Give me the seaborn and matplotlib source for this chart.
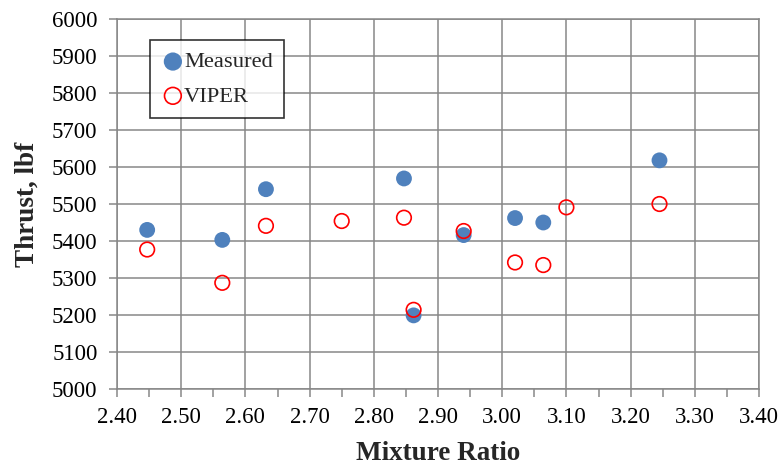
import numpy as np
import pandas as pd
import matplotlib
matplotlib.use("Agg")
import matplotlib.pyplot as plt
import seaborn as sns
from matplotlib.ticker import MultipleLocator

# data
measured_mr = [2.447, 2.564, 2.632, 2.847, 2.862, 2.940, 3.020, 3.064, 3.245]
measured_thrust = [5430, 5403, 5540, 5569, 5199, 5416, 5462, 5450, 5618]

viper_mr = [2.447, 2.564, 2.632, 2.750, 2.847, 2.862, 2.940, 3.020, 3.064, 3.100, 3.245]
viper_thrust = [5377, 5287, 5441, 5454, 5463, 5214, 5427, 5342, 5335, 5491, 5500]

df_meas = pd.DataFrame({"Mixture Ratio": measured_mr, "Thrust": measured_thrust})
df_viper = pd.DataFrame({"Mixture Ratio": viper_mr, "Thrust": viper_thrust})

sns.set_style("white")
plt.rcParams["font.family"] = ["Liberation Serif", "DejaVu Serif"]

fig = plt.figure(figsize=(7.81, 4.66), dpi=100)
ax = fig.add_axes([117 / 781, 77 / 466, 642 / 781, 370 / 466])

grid_col = "#878787"

sns.scatterplot(data=df_meas, x="Mixture Ratio", y="Thrust", ax=ax,
                color="#4F81BD", s=130, edgecolor="none", label="Measured", zorder=3)
sns.scatterplot(data=df_viper, x="Mixture Ratio", y="Thrust", ax=ax,
                facecolor="none", edgecolor="#FF0000", linewidth=1.2, s=110,
                marker="o", label="VIPER", zorder=4)

ax.set_xlim(2.40, 3.40)
ax.set_ylim(5000, 6000)
ax.xaxis.set_major_locator(MultipleLocator(0.10))
ax.xaxis.set_minor_locator(MultipleLocator(0.05))
ax.yaxis.set_major_locator(MultipleLocator(100))
ax.set_xticklabels([f"{v:.2f}" for v in ax.get_xticks()])

ax.grid(True, which="major", color=grid_col, linewidth=1.1)
ax.set_axisbelow(True)
for sp in ax.spines.values():
    sp.set_color(grid_col)
    sp.set_linewidth(1.1)

ax.tick_params(axis="both", which="both", direction="out", color=grid_col,
               width=1.1, labelsize=16.5, colors="black")
ax.tick_params(axis="x", which="major", length=6, bottom=True, pad=7)
ax.tick_params(axis="x", which="minor", length=6, bottom=True)
ax.tick_params(axis="y", which="major", length=6, left=True, pad=8)
for t in ax.xaxis.get_ticklines(minor=True) + ax.xaxis.get_ticklines() + ax.yaxis.get_ticklines():
    t.set_color(grid_col)

ax.set_xlabel("Mixture Ratio", fontsize=19.5, fontweight="bold", labelpad=9)
ax.set_ylabel("Thrust, lbf", fontsize=19.5, fontweight="bold", labelpad=9)

leg = ax.legend(loc="upper left", bbox_to_anchor=(0.052, 0.942), frameon=True,
                fancybox=False, edgecolor="black", fontsize=16.2,
                handletextpad=0.0, labelspacing=0.6, borderpad=0.5,
                handlelength=1.0, borderaxespad=0, markerscale=1.15)
leg.get_frame().set_linewidth(1.2)

fig.savefig("out.png", dpi=100)
